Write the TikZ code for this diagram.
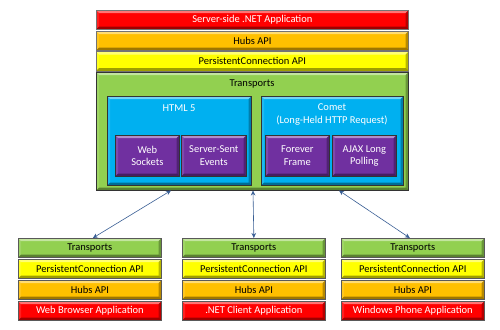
\documentclass[tikz,border=0pt]{standalone}
\usepackage{fontspec}
\setmainfont{Carlito}
\usetikzlibrary{arrows.meta}
\definecolor{cred}{HTML}{FF0000}
\definecolor{cgold}{HTML}{FFC000}
\definecolor{cyel}{HTML}{FFFF00}
\definecolor{cgreen}{HTML}{92D050}
\definecolor{cblue}{HTML}{00B0F0}
\definecolor{cpurp}{HTML}{7030A0}
\definecolor{carrow}{HTML}{3A5F95}
\newcommand{\bevw}{2.8pt}
\begin{document}
\begin{tikzpicture}[x=1pt,y=-1pt,
  bevelbox/.style={rectangle, fill=#1, inner sep=0pt, anchor=north west, line width=0.7pt,
    font=\fontsize{10.5}{12}\selectfont,
    path picture={
      \coordinate (@nw) at (path picture bounding box.north west);
      \coordinate (@ne) at (path picture bounding box.north east);
      \coordinate (@sw) at (path picture bounding box.south west);
      \coordinate (@se) at (path picture bounding box.south east);
      \fill[white,opacity=0.45] (@nw) -- (@ne) -- ([shift={(-\bevw,-\bevw)}]@ne) -- ([shift={(\bevw,-\bevw)}]@nw) -- cycle;
      \fill[white,opacity=0.12] (@nw) -- ([shift={(\bevw,-\bevw)}]@nw) -- ([shift={(\bevw,\bevw)}]@sw) -- (@sw) -- cycle;
      \fill[black,opacity=0.28] (@ne) -- (@se) -- ([shift={(-\bevw,\bevw)}]@se) -- ([shift={(-\bevw,-\bevw)}]@ne) -- cycle;
      \fill[black,opacity=0.38] (@sw) -- (@se) -- ([shift={(-\bevw,\bevw)}]@se) -- ([shift={(\bevw,\bevw)}]@sw) -- cycle;
    }},
  band/.style={bevelbox=#1, draw=black!55, minimum width=312pt, minimum height=19pt},
  sband/.style={bevelbox=#1, draw=black!65, minimum width=143pt, minimum height=19pt},
  cont/.style={bevelbox=#1, draw=black!80},
  leaf/.style={bevelbox=cpurp, draw=black!80, text=white, align=center,
    minimum width=64pt, minimum height=41pt, font=\fontsize{10.5}{12.5}\selectfont},
  lbl/.style={inner sep=0pt, font=\fontsize{10.5}{13}\selectfont, align=center},
  conn/.style={draw=carrow, line width=0.6pt, {Stealth[length=5pt,width=4.5pt]}-{Stealth[length=5pt,width=4.5pt]}}
]
\path[use as bounding box, fill=white] (0,0) rectangle (500,329);

% server stack
\node[band=cred, text=white] (srv) at (96,10) {Server-side .NET Application};
\node[band=cgold] (shubs) at (96,31) {Hubs API};
\node[band=cyel] (spc) at (96,51.5) {PersistentConnection API};
\node[cont=cgreen, minimum width=312pt, minimum height=118pt] (strans) at (96,72) {};
\node[lbl] (stranslbl) at (252,84) {Transports};

\node[cont=cblue, minimum width=144pt, minimum height=89pt] (html) at (107,96) {};
\node[lbl, text=white] (htmllbl) at (179,108) {HTML 5};
\node[cont=cblue, minimum width=142pt, minimum height=89pt] (comet) at (261,96) {};
\node[lbl, text=white] (cometlbl) at (332,114.5) {Comet\\(Long-Held HTTP Request)};

\node[leaf] (ws) at (115,135) {Web\\Sockets};
\node[leaf, minimum width=65pt] (sse) at (181,135) {Server-Sent\\Events};
\node[leaf] (ff) at (265,135) {Forever\\Frame};
\node[leaf] (ajax) at (332,135) {AJAX Long\\Polling};

% client stacks
\foreach \n/\x/\app in {a/18/Web Browser Application, b/182/.NET Client Application, c/341/Windows Phone Application}{
  \node[sband=cgreen] (\n t) at (\x,238) {Transports};
  \node[sband=cyel] (\n p) at (\x,259) {PersistentConnection API};
  \node[sband=cgold] (\n h) at (\x,280) {Hubs API};
  \node[sband=cred, text=white] (\n r) at (\x,301) {\app};
}

\coordinate (ca) at (171,190.5);
\coordinate (cb) at (253,190.5);
\coordinate (cc) at (339,190.5);
\draw[conn] (ca) -- ([xshift=3pt]at.north);
\draw[conn] (cb) -- (bt.north);
\draw[conn] (cc) -- ([xshift=-3pt]ct.north);
\end{tikzpicture}
\end{document}
